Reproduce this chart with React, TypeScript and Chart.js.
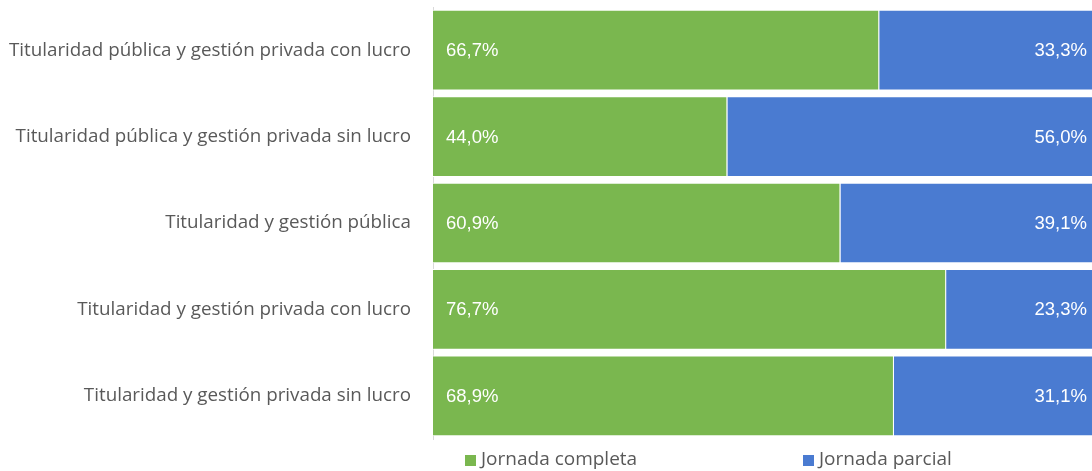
import React, { useEffect, useRef } from "react";
import { Chart, registerables } from "chart.js";

Chart.register(...registerables);

const categories = [
  "Titularidad pública y gestión privada con lucro",
  "Titularidad pública y gestión privada sin lucro",
  "Titularidad y gestión pública",
  "Titularidad y gestión privada con lucro",
  "Titularidad y gestión privada sin lucro",
];
const seriesNames = ["Jornada completa", "Jornada parcial"];
const completa = [66.7, 44.0, 60.9, 76.7, 68.9];
const parcial = [33.3, 56.0, 39.1, 23.3, 31.1];
const colors = ["#7AB74F", "#4A7BD1"];

const fmt = (v: number) => v.toFixed(1).replace(".", ",") + "%";

const labelPlugin = {
  id: "barLabels",
  afterDatasetsDraw(chart: any) {
    const ctx = chart.ctx;
    ctx.save();
    ctx.font = "18.5px 'Liberation Sans', Arial, sans-serif";
    ctx.fillStyle = "#ffffff";
    ctx.textBaseline = "middle";
    chart.data.datasets.forEach((ds: any, di: number) => {
      const meta = chart.getDatasetMeta(di);
      meta.data.forEach((el: any, i: number) => {
        const v = ds.data[i];
        if (di === 0) {
          ctx.textAlign = "left";
          ctx.fillText(fmt(v), el.base + 13, el.y + 1);
        } else {
          ctx.textAlign = "right";
          ctx.fillText(fmt(v), el.x - 15, el.y + 1);
        }
      });
    });
    ctx.restore();
  },
};

const legendPlugin = {
  id: "customLegend",
  afterDraw(chart: any) {
    const ctx = chart.ctx;
    const xs = [465, 803];
    const y = 460;
    ctx.save();
    ctx.font = "19px 'Open Sans', sans-serif";
    ctx.textBaseline = "middle";
    ctx.textAlign = "left";
    seriesNames.forEach((name, i) => {
      ctx.fillStyle = colors[i];
      ctx.fillRect(xs[i], y - 5, 11, 11);
      ctx.fillStyle = "#595959";
      ctx.fillText(name, xs[i] + 16, y);
    });
    ctx.restore();
  },
};

export default function App() {
  const ref = useRef<HTMLCanvasElement>(null);
  useEffect(() => {
    if (!ref.current) return;
    const chart = new Chart(ref.current, {
      type: "bar",
      data: {
        labels: categories,
        datasets: [
          {
            label: seriesNames[0],
            data: completa,
            backgroundColor: colors[0],
            borderColor: "#ffffff",
            borderWidth: 1,
            barPercentage: 0.934,
            categoryPercentage: 1,
          },
          {
            label: seriesNames[1],
            data: parcial,
            backgroundColor: colors[1],
            borderColor: "#ffffff",
            borderWidth: 1,
            barPercentage: 0.934,
            categoryPercentage: 1,
          },
        ],
      },
      options: {
        indexAxis: "y",
        animation: false,
        responsive: true,
        maintainAspectRatio: false,
        layout: { padding: { top: 7, bottom: 32, right: 0, left: 0 } },
        plugins: { legend: { display: false }, tooltip: { enabled: false } },
        scales: {
          x: { stacked: true, min: 0, max: 100, display: false },
          y: {
            stacked: true,
            grid: { display: false, drawTicks: false },
            border: { display: true, color: "#d9d9d9", width: 1 },
            ticks: {
              padding: 22,
              color: "#595959",
              font: { family: "'Open Sans', sans-serif", size: 18.8 },
            },
            afterFit(scale: any) {
              scale.width = 433;
              scale.paddingTop = 0;
              scale.paddingBottom = 0;
            },
          },
        },
      },
      plugins: [labelPlugin, legendPlugin],
    } as any);
    return () => chart.destroy();
  }, []);
  return (
    <div style={{ position: "absolute", left: 0, top: 0, width: 1092, height: 471, overflow: "hidden", background: "#fff" }}>
      <div style={{ position: "relative", width: 1102, height: 471 }}>
        <canvas ref={ref} />
      </div>
    </div>
  );
}
